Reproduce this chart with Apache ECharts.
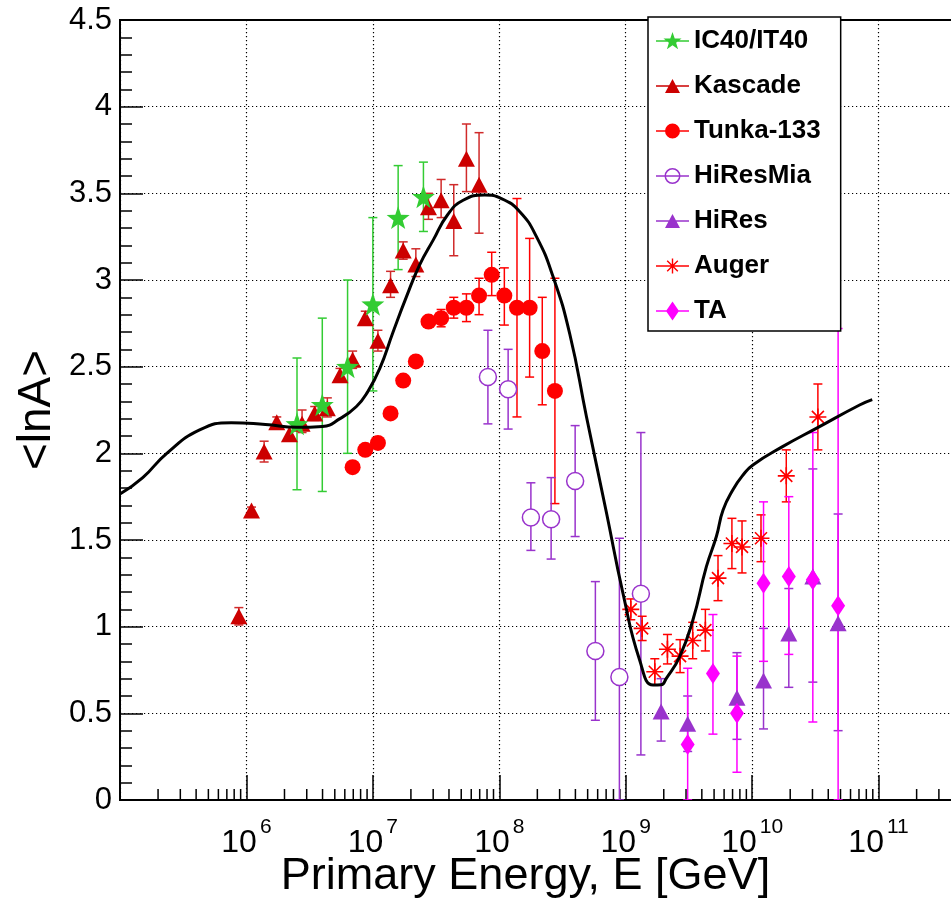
<!DOCTYPE html>
<html>
<head>
<meta charset="utf-8">
<title>lnA vs energy</title>
<script src="https://cdn.jsdelivr.net/npm/echarts@6/dist/echarts.min.js"></script>
<style>
html, body { margin: 0; padding: 0; background: #fff; }
#chart { width: 951px; height: 901px; }
</style>
</head>
<body>
<div id="chart"></div>
<script>
var FONT = "'Liberation Sans', Arial, Helvetica, sans-serif";

// energies are given as log10(E/GeV)
var ic40LogE = [6.4, 6.6, 6.8, 7.0, 7.2, 7.4];
var ic40Val  = [2.17, 2.28, 2.50, 2.86, 3.36, 3.48];
var ic40Dn   = [0.38, 0.50, 0.50, 0.50, 0.30, 0.20];
var ic40Up   = [0.38, 0.50, 0.50, 0.50, 0.30, 0.20];

var kascadeLogE = [5.94, 6.04, 6.14, 6.24, 6.34, 6.44, 6.54, 6.64, 6.74, 6.84, 6.94, 7.04, 7.14, 7.24, 7.34, 7.44, 7.54, 7.64, 7.74, 7.84];
var kascadeVal  = [1.06, 1.67, 2.01, 2.18, 2.11, 2.17, 2.23, 2.26, 2.45, 2.54, 2.78, 2.65, 2.97, 3.17, 3.09, 3.42, 3.46, 3.34, 3.70, 3.55];
var kascadeDn   = [0.05, 0.02, 0.06, 0.03, 0.04, 0.05, 0.04, 0.05, 0.04, 0.05, 0.04, 0.06, 0.07, 0.05, 0.07, 0.07, 0.10, 0.20, 0.19, 0.28];
var kascadeUp   = [0.05, 0.02, 0.06, 0.03, 0.04, 0.08, 0.04, 0.06, 0.04, 0.05, 0.04, 0.06, 0.08, 0.05, 0.09, 0.08, 0.12, 0.21, 0.20, 0.30];

var tunkaLogE = [6.84, 6.94, 7.04, 7.14, 7.24, 7.34, 7.44, 7.54, 7.64, 7.74, 7.84, 7.94, 8.04, 8.14, 8.24, 8.34, 8.44];
var tunkaVal  = [1.92, 2.02, 2.06, 2.23, 2.42, 2.53, 2.76, 2.78, 2.84, 2.84, 2.91, 3.03, 2.91, 2.84, 2.84, 2.59, 2.36];
var tunkaDn   = [0.02, 0.02, 0.02, 0.02, 0.02, 0.02, 0.03, 0.05, 0.06, 0.08, 0.11, 0.12, 0.17, 0.63, 0.40, 0.31, 0.65];
var tunkaUp   = [0.02, 0.02, 0.02, 0.02, 0.02, 0.02, 0.03, 0.05, 0.06, 0.08, 0.10, 0.13, 0.16, 0.63, 0.40, 0.31, 0.65];

var hiresMiaLogE = [7.91, 8.07, 8.25, 8.41, 8.60, 8.76, 8.95, 9.12];
var hiresMiaVal  = [2.44, 2.37, 1.63, 1.62, 1.84, 0.86, 0.71, 1.19];
var hiresMiaDn   = [0.27, 0.23, 0.19, 0.23, 0.32, 0.40, 0.71, 0.93];
var hiresMiaUp   = [0.27, 0.23, 0.20, 0.24, 0.32, 0.40, 0.80, 0.93];

var hiresLogE = [9.28, 9.49, 9.88, 10.09, 10.29, 10.48, 10.68];
var hiresVal  = [0.51, 0.44, 0.59, 0.69, 0.96, 1.29, 1.02];
var hiresDn   = [0.17, 0.16, 0.24, 0.28, 0.31, 0.61, 0.62];
var hiresUp   = [0.19, 0.16, 0.26, 0.30, 0.26, 0.62, 0.63];

var augerLogE = [9.04, 9.13, 9.23, 9.33, 9.43, 9.53, 9.63, 9.73, 9.84, 9.92, 10.07, 10.27, 10.52];
var augerVal  = [1.10, 0.99, 0.74, 0.87, 0.83, 0.92, 0.98, 1.28, 1.48, 1.46, 1.51, 1.87, 2.21];
var augerErr  = [0.06, 0.07, 0.075, 0.085, 0.095, 0.105, 0.12, 0.13, 0.145, 0.15, 0.135, 0.15, 0.19];

var taLogE = [9.49, 9.69, 9.88, 10.09, 10.29, 10.48, 10.68];
var taVal  = [0.32, 0.73, 0.50, 1.25, 1.29, 1.27, 1.12];
var taDn   = [0.32, 0.35, 0.34, 0.45, 0.45, 0.82, 1.12];
var taUp   = [0.44, 0.34, 0.33, 0.47, 0.46, 0.85, 1.60];

// model curve
var modelLogE = [5.0, 5.18, 5.37, 5.63, 5.88, 6.15, 6.4, 6.6, 6.74, 6.87, 6.96, 7.055, 7.16, 7.266, 7.37, 7.477, 7.59, 7.714, 7.885, 8.017, 8.162, 8.294, 8.425, 8.557, 8.69, 8.847, 8.979, 9.11, 9.216, 9.28, 9.32, 9.427, 9.532, 9.638, 9.717, 9.77, 9.848, 9.928, 10.006, 10.244, 10.507, 10.85, 10.95];
var modelVal  = [1.765, 1.86, 2.0, 2.135, 2.177, 2.166, 2.15, 2.155, 2.20, 2.27, 2.356, 2.49, 2.70, 2.904, 3.087, 3.23, 3.375, 3.46, 3.49, 3.47, 3.394, 3.25, 3.02, 2.69, 2.21, 1.66, 1.19, 0.808, 0.663, 0.665, 0.70, 0.827, 1.04, 1.346, 1.52, 1.673, 1.79, 1.875, 1.933, 2.04, 2.144, 2.279, 2.31];

// minor tick positions of the log axis
var minorMult = [2, 3, 4, 5, 6, 7, 8, 9];
var minorDecades = [5, 6, 7, 8, 9, 10, 11];

var GREEN = '#33cc33', DARKRED = '#cc0000', RED = '#ff0000', PURPLE = '#9933cc', MAGENTA = '#ff00ff';

function points(logE, val) {
  return logE.map(function (l, i) { return [Math.pow(10, l), val[i]]; });
}
function errors(logE, val, dn, up) {
  return logE.map(function (l, i) { return [Math.pow(10, l), val[i], val[i] - dn[i], val[i] + up[i]]; });
}
function errBars(name, color, data) {
  return {
    type: 'custom', name: name + ' err', z: 2, clip: true, silent: true,
    encode: { x: 0, y: 1 },
    data: data,
    renderItem: function (params, api) {
      var x = api.value(0);
      var top = api.coord([x, api.value(3)]);
      var bot = api.coord([x, api.value(2)]);
      var w = 4.5;
      var st = { stroke: color, lineWidth: 1.5 };
      return { type: 'group', children: [
        { type: 'line', shape: { x1: top[0], y1: top[1], x2: bot[0], y2: bot[1] }, style: st },
        { type: 'line', shape: { x1: top[0] - w, y1: top[1], x2: top[0] + w, y2: top[1] }, style: st },
        { type: 'line', shape: { x1: bot[0] - w, y1: bot[1], x2: bot[0] + w, y2: bot[1] }, style: st }
      ] };
    }
  };
}

var STAR = 'path://M10,0 L12.35,6.76 L19.51,6.91 L13.80,11.24 L15.88,18.09 L10,14 L4.12,18.09 L6.20,11.24 L0.49,6.91 L7.65,6.76 Z';
var ASTER = 'path://M2.5,9.3 L17.5,9.3 L17.5,10.7 L2.5,10.7 Z M9.3,2.5 L10.7,2.5 L10.7,17.5 L9.3,17.5 Z ' +
  'M5.2,4.2 L15.8,14.8 L14.8,15.8 L4.2,5.2 Z M4.2,14.8 L14.8,4.2 L15.8,5.2 L5.2,15.8 Z';

// legend icons: line through marker, 33x20 box
var BOX = 'M0,0 L0,0 Z M33,20 L33,20 Z ';
var LINE = 'M0,9.3 L33,9.3 L33,10.7 L0,10.7 Z ';
var iconStar = 'path://' + BOX + LINE + 'M16.5,1 L18.73,7.43 L25.54,7.56 L20.11,11.67 L22.08,18.19 L16.5,14.3 L10.92,18.19 L12.89,11.67 L7.46,7.56 L14.27,7.43 Z';
var iconTri = 'path://' + BOX + LINE + 'M9,17 L16.5,3 L24,17 Z';
var iconCircle = 'path://' + BOX + LINE + 'M24,10 A7.5,7.5 0 1,1 9,10 A7.5,7.5 0 1,1 24,10 Z';
var iconRing = 'path://' + BOX + LINE + 'M24.5,10 A8,8 0 1,1 8.5,10 A8,8 0 1,1 24.5,10 Z M23,10 A6.5,6.5 0 1,0 10,10 A6.5,6.5 0 1,0 23,10 Z';
var iconAster = 'path://' + BOX + LINE + 'M15.8,2.5 L17.2,2.5 L17.2,17.5 L15.8,17.5 Z M11.7,4.2 L22.3,14.8 L21.3,15.8 L10.7,5.2 Z M10.7,14.8 L21.3,4.2 L22.3,5.2 L11.7,15.8 Z';
var iconDiamond = 'path://' + BOX + LINE + 'M16.5,0.5 L23,10 L16.5,19.5 L10,10 Z';

var minorTicks = [];
minorDecades.forEach(function (d) {
  minorMult.forEach(function (m) { minorTicks.push([m * Math.pow(10, d), 0]); });
});

var chart = echarts.init(document.getElementById('chart'), null, { renderer: 'canvas' });
var option = {
  animation: false,
  backgroundColor: '#fff',
  textStyle: { fontFamily: FONT },
  grid: { left: 120, top: 20, right: -54, bottom: 101, containLabel: false, outerBoundsMode: 'none',
          show: true, borderColor: '#000', borderWidth: 2 },
  legend: {
    orient: 'vertical', left: 648, top: 17,
    backgroundColor: '#fff', borderColor: '#000', borderWidth: 1.5, borderRadius: 0,
    padding: [11, 20, 7, 8],
    itemWidth: 33, itemHeight: 20, itemGap: 19,
    selectedMode: false,
    textStyle: { fontFamily: FONT, fontSize: 26, fontWeight: 'bold', color: '#000' },
    data: [
      { name: 'IC40/IT40', icon: iconStar },
      { name: 'Kascade', icon: iconTri },
      { name: 'Tunka-133', icon: iconCircle },
      { name: 'HiResMia', icon: iconRing, itemStyle: { color: PURPLE, borderWidth: 0 } },
      { name: 'HiRes', icon: iconTri },
      { name: 'Auger', icon: iconAster },
      { name: 'TA', icon: iconDiamond }
    ]
  },
  xAxis: {
    type: 'log', logBase: 10, min: 1e5, max: 1e12, splitNumber: 7,
    name: 'Primary Energy, E [GeV]', nameLocation: 'middle', nameGap: 54, nameMoveOverlap: false,
    nameTextStyle: { fontFamily: FONT, fontSize: 45, color: '#000', padding: [0, 74, 0, 0] },
    axisLine: { lineStyle: { color: '#000', width: 2 } },
    axisTick: { inside: true, length: 25, lineStyle: { color: '#000', width: 1.5 } },
    splitLine: { show: true, lineStyle: { color: '#000', width: 1.2, type: [1.2, 2.8] } },
    axisLabel: {
      margin: 17, color: '#000',
      formatter: function (v) {
        var e = Math.round(Math.log10(v));
        if (e <= 5 || e >= 12) return '';
        return '{b|10}{s|' + e + '}';
      },
      rich: {
        b: { fontFamily: FONT, fontSize: 32, lineHeight: 42, verticalAlign: 'bottom', color: '#000' },
        s: { fontFamily: FONT, fontSize: 21, lineHeight: 21, verticalAlign: 'top', color: '#000', padding: [0, 0, 0, 3] }
      }
    }
  },
  yAxis: {
    type: 'value', min: 0, max: 4.5, interval: 0.5,
    name: '<lnA>', nameLocation: 'middle', nameGap: 60, nameMoveOverlap: false,
    nameTextStyle: { fontFamily: FONT, fontSize: 46, color: '#000' },
    axisLine: { show: true, lineStyle: { color: '#000', width: 2 } },
    axisTick: { show: true, inside: true, length: 23, lineStyle: { color: '#000', width: 1.5 } },
    minorTick: { show: true, splitNumber: 5, length: 12, lineStyle: { color: '#000', width: 1.5 } },
    splitLine: { show: true, lineStyle: { color: '#000', width: 1.2, type: [1.2, 2.8] } },
    axisLabel: { fontFamily: FONT, fontSize: 31, color: '#000', margin: 8 }
  },
  series: [
    {
      type: 'custom', name: 'minor ticks', z: 1, silent: true, clip: true,
      encode: { x: 0, y: 1 },
      data: minorTicks,
      renderItem: function (params, api) {
        var p = api.coord([api.value(0), 0]);
        return { type: 'line', shape: { x1: p[0], y1: p[1], x2: p[0], y2: p[1] - 11 },
                 style: { stroke: '#000', lineWidth: 1.5 } };
      }
    },
    errBars('IC40/IT40', GREEN, errors(ic40LogE, ic40Val, ic40Dn, ic40Up)),
    errBars('Kascade', '#d02a2a', errors(kascadeLogE, kascadeVal, kascadeDn, kascadeUp)),
    errBars('Tunka-133', RED, errors(tunkaLogE, tunkaVal, tunkaDn, tunkaUp)),
    errBars('HiResMia', PURPLE, errors(hiresMiaLogE, hiresMiaVal, hiresMiaDn, hiresMiaUp)),
    errBars('HiRes', PURPLE, errors(hiresLogE, hiresVal, hiresDn, hiresUp)),
    errBars('Auger', RED, errors(augerLogE, augerVal, augerErr, augerErr)),
    errBars('TA', MAGENTA, errors(taLogE, taVal, taDn, taUp)),
    { type: 'scatter', name: 'Kascade', z: 3, symbol: 'triangle', symbolSize: [17, 16],
      itemStyle: { color: DARKRED, opacity: 1 }, data: points(kascadeLogE, kascadeVal) },
    { type: 'scatter', name: 'IC40/IT40', z: 3, symbol: STAR, symbolSize: 23,
      itemStyle: { color: GREEN, opacity: 1 }, data: points(ic40LogE, ic40Val) },
    { type: 'scatter', name: 'Tunka-133', z: 3, symbol: 'circle', symbolSize: 16,
      itemStyle: { color: RED, opacity: 1 }, data: points(tunkaLogE, tunkaVal) },
    { type: 'scatter', name: 'HiResMia', z: 3, symbol: 'circle', symbolSize: 17,
      itemStyle: { color: '#fff', borderColor: PURPLE, borderWidth: 1.5, opacity: 1 }, data: points(hiresMiaLogE, hiresMiaVal) },
    { type: 'scatter', name: 'HiRes', z: 3, symbol: 'triangle', symbolSize: [17, 16],
      itemStyle: { color: PURPLE, opacity: 1 }, data: points(hiresLogE, hiresVal) },
    { type: 'scatter', name: 'Auger', z: 3, symbol: ASTER, symbolSize: 17,
      itemStyle: { color: RED, opacity: 1 }, data: points(augerLogE, augerVal) },
    { type: 'scatter', name: 'TA', z: 3, symbol: 'diamond', symbolSize: [14, 21],
      itemStyle: { color: MAGENTA, opacity: 1 }, data: points(taLogE, taVal) },
    { type: 'line', name: 'model', z: 4, smooth: true, showSymbol: false, symbol: 'none', silent: true,
      lineStyle: { color: '#000', width: 3 }, data: points(modelLogE, modelVal) }
  ]
};
chart.setOption(option);
</script>
</body>
</html>
